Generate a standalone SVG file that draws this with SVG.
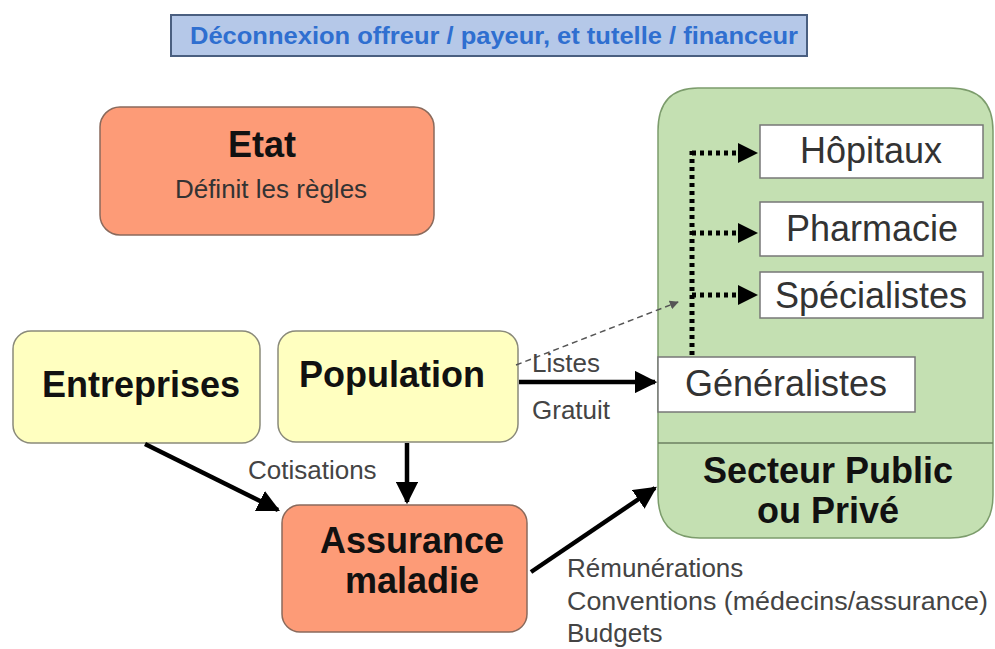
<svg xmlns="http://www.w3.org/2000/svg" width="995" height="649" viewBox="0 0 995 649">
<defs>
<style>
.t{font-family:"Liberation Sans",Arial,sans-serif}
.big{font-size:36px;font-weight:bold;fill:#111}
.lab{font-size:26px;fill:#444}
.box{font-size:36px;fill:#333}
.sal{fill:#fd9b77;stroke:#8a6a5c;stroke-width:1.5}
.yel{fill:#ffffc0;stroke:#8a8a7a;stroke-width:1.5}
.wht{fill:#fff;stroke:#777;stroke-width:1.5}
.thick{stroke:#000;stroke-width:4.5;fill:none}
.dot{stroke:#000;stroke-width:5;fill:none;stroke-dasharray:4 4}
</style>
<marker id="ah" viewBox="0 0 10 10" refX="9" refY="5" markerWidth="5" markerHeight="5" markerUnits="strokeWidth" orient="auto"><path d="M0,0 L10,5 L0,10 z" fill="#000"/></marker>
<marker id="ahd" viewBox="0 0 10 10" refX="9" refY="5" markerWidth="4" markerHeight="4" markerUnits="strokeWidth" orient="auto"><path d="M0,0 L10,5 L0,10 z" fill="#000"/></marker>
<marker id="ahs" viewBox="0 0 10 10" refX="9" refY="5" markerWidth="6" markerHeight="6" markerUnits="strokeWidth" orient="auto"><path d="M0,0 L10,5 L0,10 z" fill="#555"/></marker>
</defs>
<rect width="995" height="649" fill="#fff"/>

<g id="title">
<rect x="171" y="15" width="636" height="41" fill="#b5c8e8" stroke="#4a5f80" stroke-width="2"/>
<text class="t" x="494" y="44" text-anchor="middle" font-size="23" font-weight="bold" fill="#2f6fd0" textLength="608" lengthAdjust="spacingAndGlyphs">Déconnexion offreur / payeur, et tutelle / financeur</text>
</g>

<g id="etat">
<rect class="sal" x="100" y="107" width="334" height="128" rx="20"/>
<text class="t big" x="262" y="157" text-anchor="middle" font-size="34">Etat</text>
<text class="t" x="271" y="198" text-anchor="middle" font-size="26" fill="#333">Définit les règles</text>
</g>

<g id="secteur">
<path d="M698,88 H950 Q993,88 993,131 V495 Q993,538 950,538 H700 Q658,538 658,495 V131 Q658,88 698,88 Z" fill="#c4e0b2" stroke="#7c9c6c" stroke-width="1.5"/>
<line x1="658" y1="443" x2="993" y2="443" stroke="#6c8060" stroke-width="1.5"/>
<text class="t big" x="828" y="483" text-anchor="middle">Secteur Public</text>
<text class="t big" x="828" y="523" text-anchor="middle">ou Privé</text>
</g>

<g id="hopitaux">
<rect class="wht" x="760" y="125" width="223" height="53"/>
<text class="t box" x="871" y="163" text-anchor="middle">Hôpitaux</text>
</g>
<g id="pharmacie">
<rect class="wht" x="760" y="202" width="223" height="54"/>
<text class="t box" x="872" y="241" text-anchor="middle">Pharmacie</text>
</g>
<g id="specialistes">
<rect class="wht" x="760" y="272" width="223" height="46"/>
<text class="t box" x="871" y="308" text-anchor="middle">Spécialistes</text>
</g>
<g id="generalistes">
<rect class="wht" x="658" y="357" width="257" height="55"/>
<text class="t box" x="685" y="396">Généralistes</text>
</g>

<g id="entreprises">
<rect class="yel" x="13" y="331" width="247" height="112" rx="18"/>
<text class="t big" x="141" y="397" text-anchor="middle">Entreprises</text>
</g>
<g id="population">
<rect class="yel" x="278" y="331" width="240" height="111" rx="18"/>
<text class="t big" x="392" y="387" text-anchor="middle">Population</text>
</g>
<g id="assurance">
<rect class="sal" x="282" y="505" width="245" height="127" rx="18"/>
<text class="t big" x="412" y="553" text-anchor="middle">Assurance</text>
<text class="t big" x="412" y="593" text-anchor="middle">maladie</text>
</g>

<g id="connectors">
<path class="dot" d="M692,355 V150"/>
<path class="dot" d="M692,153 H756" marker-end="url(#ahd)"/>
<path class="dot" d="M692,233 H756" marker-end="url(#ahd)"/>
<path class="dot" d="M692,295 H756" marker-end="url(#ahd)"/>
<path d="M516,365 L678,302" stroke="#555" stroke-width="1.5" stroke-dasharray="6 4" fill="none" marker-end="url(#ahs)"/>
<path class="thick" d="M519,382 H655" marker-end="url(#ah)"/>
<path class="thick" d="M145,444 L278,510" marker-end="url(#ah)"/>
<path class="thick" d="M407,443 V502" marker-end="url(#ah)"/>
<path class="thick" d="M531,572 L655,488" marker-end="url(#ah)"/>
<text class="t lab" x="532" y="372">Listes</text>
<text class="t lab" x="532" y="419">Gratuit</text>
<text class="t lab" x="248" y="479">Cotisations</text>
<text class="t lab" x="567" y="577">Rémunérations</text>
<text class="t lab" x="567" y="610" textLength="421" lengthAdjust="spacingAndGlyphs">Conventions (médecins/assurance)</text>
<text class="t lab" x="567" y="642">Budgets</text>
</g>
</svg>
